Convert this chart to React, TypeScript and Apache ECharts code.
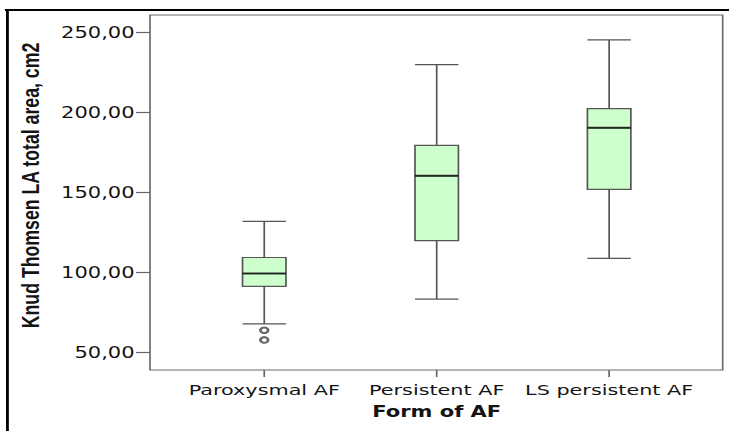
import { useEffect, useRef } from "react";
import * as echarts from "echarts";

// ---- data ----
const categories = ["Paroxysmal AF", "Persistent AF", "LS persistent AF"];
// [lower whisker, Q1, median, Q3, upper whisker]
const paroxysmal = [68, 91.5, 99.5, 109.5, 132];
const persistent = [83.5, 120, 160.5, 179.5, 230];
const lsPersistent = [109, 152, 190.5, 202.5, 245.5];
// outliers: [category index, value]
const outlierPoints = [
  [0, 64],
  [0, 58],
];
const yTicks = [50, 100, 150, 200, 250];
const yTitle = "Knud Thomsen LA total area, cm2";
const xTitle = "Form of AF";

// the reference picture is horizontally stretched; draw narrow and stretch with CSS
const INNER_W = 520;
const INNER_H = 431;
const STRETCH = 729 / INNER_W;

export default function App() {
  const ref = useRef<HTMLDivElement>(null);

  useEffect(() => {
    if (!ref.current) return;
    const chart = echarts.init(ref.current, undefined, { renderer: "svg" });
    const boxes = [paroxysmal, persistent, lsPersistent];
    const medians = boxes.map((b, i) => [i, b[2]]);
    const textColor = "#141414";
    const lineColor = "#666666";

    chart.setOption({
      animation: false,
      backgroundColor: "#ffffff",
      grid: { left: 127, right: 24, top: 15, bottom: 61 },
      xAxis: {
        type: "category",
        data: categories,
        boundaryGap: true,
        axisLine: { show: false },
        axisTick: {
          show: true,
          alignWithLabel: true,
          length: 7,
          lineStyle: { color: lineColor, width: 1.2 },
        },
        axisLabel: {
          interval: 0,
          margin: 12,
          color: textColor,
          fontFamily: "DejaVu Sans",
          fontSize: 14.8,
        },
        splitLine: { show: false },
        name: xTitle,
        nameLocation: "middle",
        nameGap: 34,
        nameTextStyle: {
          fontFamily: "DejaVu Sans",
          fontWeight: "bold",
          fontSize: 15,
          color: textColor,
        },
      },
      yAxis: {
        type: "value",
        min: 39.2,
        max: 261,
        offset: 20,
        axisLine: { show: false },
        axisTick: {
          show: true,
          length: 10,
          customValues: yTicks,
          lineStyle: { color: lineColor, width: 1.2 },
        },
        axisLabel: {
          customValues: yTicks,
          margin: 11,
          color: textColor,
          fontFamily: "DejaVu Sans",
          fontSize: 15,
          formatter: (v: number) => v.toFixed(2).replace(".", ","),
        },
        splitLine: { show: false },
      },
      series: [
        {
          type: "boxplot",
          data: boxes,
          boxWidth: [31, 31],
          itemStyle: {
            color: "#ccffcc",
            borderColor: "#555555",
            borderWidth: 1.2,
          },
        },
        {
          type: "scatter",
          data: medians,
          symbol: "rect",
          symbolSize: [31, 2],
          itemStyle: { color: "#111111" },
          z: 5,
        },
        {
          type: "scatter",
          data: outlierPoints,
          symbol: "emptyCircle",
          symbolSize: 5.5,
          itemStyle: { color: "#444444", borderColor: "#444444", borderWidth: 1 },
          z: 5,
        },
      ],
      graphic: [
        {
          type: "rect",
          shape: { x: 107, y: 15, width: 408.5, height: 355 },
          style: { fill: "none", stroke: "#6b6b6b", lineWidth: 1.2 },
          z: 10,
        },
        {
          type: "line",
          shape: { x1: 3.5, y1: 10, x2: INNER_W, y2: 10 },
          style: { stroke: "#000000", lineWidth: 2 },
        },
        {
          type: "line",
          shape: { x1: 5.3, y1: 10, x2: 5.3, y2: INNER_H },
          style: { stroke: "#000000", lineWidth: 2 },
        },
        {
          type: "text",
          x: 21.4,
          y: 185.5,
          rotation: Math.PI / 2,
          style: {
            text: yTitle,
            fontFamily: "Liberation Sans",
            fontWeight: "bold",
            fontSize: 17.7,
            fill: textColor,
            align: "center",
            verticalAlign: "middle",
            textAlign: "center",
            textVerticalAlign: "middle",
          },
        },
      ],
    });

    return () => chart.dispose();
  }, []);

  return (
    <div
      ref={ref}
      style={{
        position: "fixed",
        left: 0,
        top: 0,
        width: INNER_W,
        height: INNER_H,
        transform: `scaleX(${STRETCH})`,
        transformOrigin: "0 0",
      }}
    />
  );
}
